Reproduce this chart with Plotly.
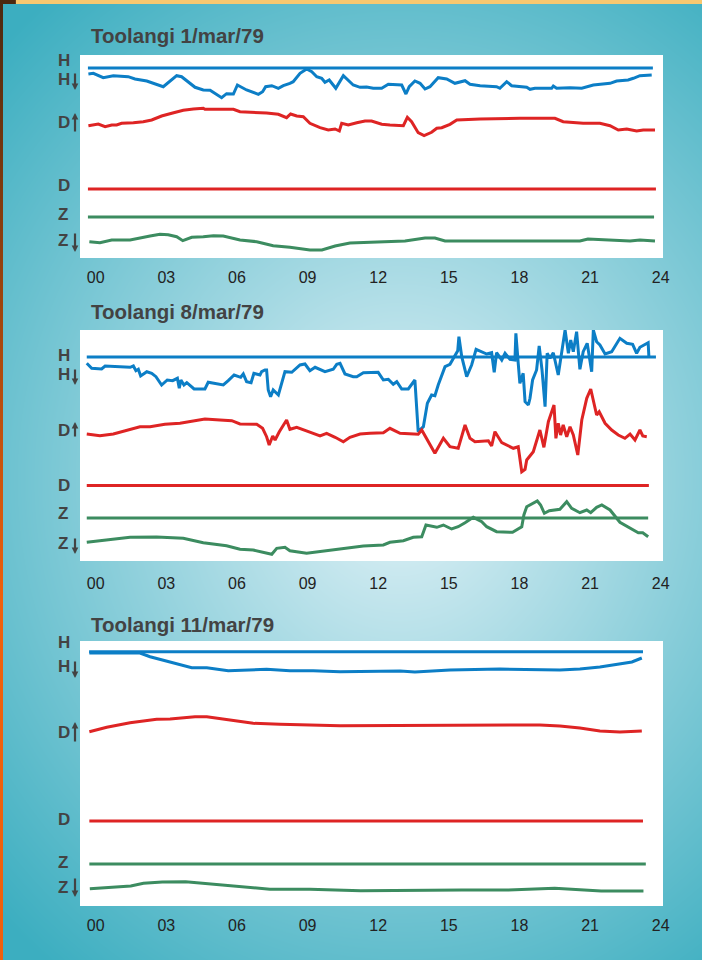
import base64
import struct
import zlib

import numpy as np
import plotly.graph_objects as go

# The photographed page is squeezed horizontally by about 702/709, so the figure is
# laid out 709 px wide while every position is given in reference (702 px) pixels.
REF_W = 702
W, HGT = 709, 960

# ---------------- data ----------------
TICK_HOURS = [0, 3, 6, 9, 12, 15, 18, 21, 24]
TICK_TEXT = ["00", "03", "06", "09", "12", "15", "18", "21", "24"]
TITLES = ["Toolangi 1/mar/79", "Toolangi 8/mar/79", "Toolangi 11/mar/79"]

# ---- 1 March 1979 ----
P1_H_T = [-0.31, -0.10, 0.32, 0.75, 1.38, 1.67, 2.17, 2.87, 3.44, 3.65, 4.22, 4.57, 4.86, 5.35, 5.56,
          5.85, 6.02, 6.41, 6.91, 7.09, 7.22, 7.48, 7.76, 7.97, 8.25, 8.39, 8.68, 8.96, 9.18, 9.39,
          9.60, 9.74, 9.92, 10.20, 10.52, 10.94, 11.23, 11.51, 11.79, 12.15, 12.43, 13.00, 13.18,
          13.32, 13.56, 13.78, 13.99, 14.20, 14.55, 14.91, 15.26, 15.69, 15.90, 16.33, 17.03, 17.17,
          17.46, 17.67, 18.31, 18.45, 18.66, 19.37, 19.44, 19.58, 20.15, 20.65, 21.14, 21.85, 22.13,
          22.62, 22.84, 23.12, 23.62]
P1_H_V = [184, 184.7, 180.3, 182.3, 181.3, 179, 177, 171.3, 182.3, 181.3, 170.7, 168, 167.7, 160.3,
          164.3, 164, 173, 168, 163.7, 166.3, 171.3, 172.3, 169.7, 172.3, 174.7, 176.3, 184.7, 189,
          186.3, 181.3, 179.7, 175.7, 178, 169.7, 182.3, 173, 170.7, 171, 169.7, 169.7, 173.7, 173,
          164, 171.3, 177, 174.7, 169, 171.3, 180.3, 179, 174.7, 177.3, 173.7, 172.3, 171.3, 169.7,
          176.3, 172.3, 170.7, 168.7, 169.7, 169.7, 172, 169.7, 170.3, 169.7, 173, 174.7, 177, 178,
          179.7, 182.3, 183]
P1_D_T = [-0.31, 0.11, 0.40, 0.68, 0.89, 1.10, 1.60, 2.02, 2.38, 2.80, 3.23, 3.72, 4.15, 4.57, 4.64,
          5.85, 6.13, 6.69, 7.26, 7.76, 8.11, 8.28, 8.54, 8.82, 9.10, 9.53, 9.88, 10.17, 10.35, 10.45,
          10.73, 11.09, 11.44, 11.72, 12.15, 12.50, 13.07, 13.24, 13.42, 13.70, 13.95, 14.27, 14.49,
          14.70, 15.05, 15.34, 16.33, 18.02, 19.51, 19.86, 20.71, 21.42, 21.85, 22.20, 22.56, 22.98,
          23.26, 23.76]
P1_D_V = [132.3, 134, 131.3, 133, 133, 134.7, 135.3, 136.3, 138, 142, 144.7, 147.7, 149, 149.7,
          148.7, 148.7, 146.3, 145.7, 145, 143.7, 140.3, 144, 142, 141.3, 134.7, 130.3, 128, 129, 127,
          134.7, 133, 135.3, 137, 137, 133.7, 133, 132.3, 140.7, 136.3, 125.3, 122.3, 125.7, 129.7,
          130.3, 133.7, 138, 139, 139.7, 139.7, 136.3, 134.7, 134.7, 132.3, 128, 129, 127, 128, 128]
P1_Z_T = [-0.27, 0.18, 0.68, 1.46, 2.31, 2.73, 3.08, 3.44, 3.70, 4.08, 4.57, 5.00, 5.42, 6.13, 6.84,
          7.54, 8.25, 8.68, 9.10, 9.61, 10.17, 10.80, 12.08, 13.14, 13.99, 14.41, 14.84, 17.17, 20.57,
          20.91, 21.85, 22.70, 23.12, 23.76]
P1_Z_V = [16.3, 15.3, 18, 18, 22, 23.7, 23.3, 21.3, 17.3, 20.7, 21.3, 22.3, 22, 18, 16.3, 12.3, 10.7,
          9, 8, 8, 12, 15, 16, 17, 20, 20, 17, 17, 17, 19, 18, 17, 18, 17]
# baselines: level, start hour, end hour
P1_BASE = {"H": (190, -0.33, 23.67), "D": (69, -0.33, 23.80), "Z": (41, -0.33, 23.72)}

# ---- 8 March 1979 ----
P2_H_T = [-0.38, -0.17, 0.25, 0.40, 1.46, 1.60, 1.71, 1.81, 1.91, 2.17, 2.38, 2.56, 2.80, 3.04, 3.27,
          3.47, 3.55, 3.62, 3.75, 3.87, 4.18, 4.64, 4.78, 5.07, 5.42, 5.63, 5.88, 6.16, 6.27, 6.41,
          6.60, 6.72, 6.98, 7.05, 7.19, 7.26, 7.33, 7.43, 7.54, 7.76, 7.90, 8.04, 8.33, 8.68, 8.89,
          9.10, 9.32, 9.74, 10.09, 10.24, 10.38, 10.59, 10.94, 11.09, 11.37, 12.00, 12.22, 12.43,
          12.64, 12.79, 13.00, 13.28, 13.56, 13.70, 13.92, 14.09, 14.27, 14.41, 14.55, 14.70, 14.84,
          15.05, 15.26, 15.38, 15.43, 15.55, 15.76, 15.97, 16.16, 16.40, 16.61, 16.82, 16.93, 17.03,
          17.25, 17.39, 17.60, 17.81, 17.85, 17.95, 18.02, 18.16, 18.24, 18.38, 18.45, 18.56, 18.73,
          18.84, 18.96, 19.09, 19.18, 19.30, 19.44, 19.65, 19.80, 19.94, 20.08, 20.18, 20.29, 20.43,
          20.57, 20.71, 20.88, 21.07, 21.14, 21.28, 21.42, 21.64, 21.92, 22.27, 22.56, 22.81, 22.98,
          23.12, 23.47, 23.50]
P2_H_V = [197.7, 192.7, 192, 195, 193.7, 195, 190.3, 191.7, 185, 189.3, 187.7, 184.3, 176, 181, 180.3,
          182.7, 172.7, 181, 176, 178.3, 172, 172, 178.7, 177.7, 176, 180.3, 186, 183.7, 187, 179.3,
          178.3, 187.7, 186, 189.3, 191, 191, 171, 164.3, 171, 166, 177.7, 189.3, 188.7, 196, 197,
          190.3, 193.7, 189.3, 191.7, 196.7, 197.7, 187, 184.3, 184.3, 188.3, 188.7, 181, 181.7, 176.7,
          179.3, 172, 172, 181, 129.3, 134.3, 157.7, 166, 165.3, 176, 186, 194.3, 196.7, 205, 210.3,
          224.3, 204.3, 184.3, 196, 211.7, 209.3, 207, 208.3, 188.7, 208.3, 201, 207.7, 201.7, 201,
          227.7, 197.7, 177.7, 187.7, 159.3, 156, 162.7, 181, 191, 215, 191, 154.3, 207.7, 202.7,
          208.3, 186, 207.7, 231, 207.7, 221, 209.3, 229.3, 191.7, 209.3, 217.7, 189.3, 231, 219.3,
          216, 207, 209.3, 222.7, 217.7, 216.7, 207.7, 213.7, 218.3, 204.3]
P2_D_T = [-0.38, 0.18, 0.75, 1.32, 1.88, 2.31, 2.94, 3.58, 4.08, 4.64, 5.28, 5.78, 6.13, 6.84, 7.09,
          7.26, 7.37, 7.52, 7.62, 7.80, 8.11, 8.25, 8.54, 8.82, 9.24, 9.53, 9.81, 10.17, 10.52, 10.80,
          11.23, 11.65, 12.22, 12.50, 12.93, 13.70, 13.85, 14.41, 14.77, 15.05, 15.40, 15.69, 15.90,
          16.11, 16.68, 16.82, 16.96, 17.25, 17.74, 17.95, 18.10, 18.24, 18.31, 18.59, 18.87, 19.04,
          19.23, 19.47, 19.55, 19.65, 19.75, 19.86, 20.01, 20.15, 20.29, 20.48, 20.65, 20.86, 21.03,
          21.28, 21.39, 21.64, 21.92, 22.20, 22.48, 22.70, 22.91, 23.12, 23.24, 23.41]
P2_D_V = [127, 125.3, 127, 131, 134.3, 134.3, 136.7, 137.7, 140, 142, 141, 140.3, 137, 136.7, 132.7,
          124.3, 116, 125, 121, 129.3, 141, 131.7, 133.7, 131, 127.7, 125, 127.7, 123.7, 119.3, 123.7,
          127, 127.7, 128.3, 132.7, 127.7, 126.7, 131, 107.7, 122.7, 114.3, 112.7, 136, 122.7, 119.3,
          120.3, 115, 129.3, 118.3, 112.7, 114.3, 89.3, 91.7, 101, 109.3, 131, 113.7, 139.3, 156,
          122.7, 137.7, 126, 136, 124.3, 134.3, 126, 106, 141, 162.7, 172, 146, 149.3, 137.7, 131, 126,
          122.7, 127, 121, 131, 125, 124.3]
P2_Z_T = [-0.38, 0.61, 1.46, 2.59, 3.72, 4.57, 5.14, 5.56, 6.13, 6.69, 7.48, 7.69, 8.04, 8.25, 8.96,
          9.67, 10.80, 11.37, 12.22, 12.50, 13.07, 13.49, 13.85, 14.03, 14.49, 14.77, 15.12, 15.40,
          15.69, 16.04, 16.40, 16.61, 17.03, 17.71, 18.10, 18.19, 18.31, 18.76, 18.90, 19.06, 19.27,
          19.72, 20.01, 20.22, 20.57, 20.86, 21.03, 21.28, 21.50, 21.85, 22.27, 22.70, 23.05, 23.24,
          23.47]
P2_Z_V = [18.7, 21, 23.7, 24, 22.7, 18.3, 16.7, 15.3, 11.7, 11, 6.7, 12.7, 13.7, 10.3, 7.7, 10, 13.5,
          15, 16, 18.7, 20.3, 23.7, 24.3, 36, 33.7, 36, 32, 34.3, 38.3, 43.7, 39.3, 34.3, 29.3, 28.7,
          34.3, 46, 54.3, 60, 56, 47.7, 50.3, 51.7, 59.3, 52.7, 48.3, 51, 48.3, 53.7, 56, 51, 38.7,
          32.7, 28.3, 28.3, 24.3]
P2_BASE = {"H": (204, -0.38, 23.80), "D": (75.5, -0.38, 23.50), "Z": (43, -0.38, 23.47)}

# ---- 11 March 1979 ----
P3_H_T = [-0.27, 1.88, 2.31, 4.08, 4.72, 5.63, 7.26, 8.25, 9.24, 10.38, 12.93, 13.56, 15.05, 17.17,
          19.72, 20.57, 21.42, 22.27, 22.78, 23.20]
P3_H_V = [253, 253, 249.3, 238.3, 238.3, 235.3, 236.7, 235.3, 235.3, 234.3, 235, 234, 236, 237, 236,
          237, 239, 242, 244, 248]
P3_D_T = [-0.27, 0.47, 1.46, 2.59, 3.16, 4.22, 4.72, 5.56, 6.69, 7.83, 8.96, 10.38, 18.87, 19.72,
          20.57, 21.42, 22.27, 23.20]
P3_D_V = [174.3, 178.7, 183.3, 186.7, 187, 189.3, 189.3, 186.7, 182.7, 181.7, 181, 180.3, 181, 180,
          178, 175, 174, 175]
P3_Z_T = [-0.25, 0.86, 1.49, 2.03, 2.83, 3.82, 5.16, 6.95, 7.40, 9.10, 11.26, 15.56, 17.53, 19.50,
          21.47, 23.27]
P3_Z_V = [17.3, 18.7, 20, 22.7, 24, 24.3, 21.3, 18, 16.7, 16.7, 15.3, 16, 16, 17.7, 15, 15]
P3_BASE = {"H": (254.3, -0.28, 23.25), "D": (85, -0.27, 23.25), "Z": (42, -0.27, 23.37)}

# ---------------- layout geometry (reference pixels) ----------------
PLOT_LEFT, PLOT_RIGHT = 80, 663
PANEL_TOP = [55, 330, 641]
PANEL_BOTTOM = [258, 561, 906]
X_RANGE = [-0.667, 24.10]
TICK_STANDOFF = [8, 11, 8]
TITLE_Y = [35, 312, 624]
LABEL_Y = [[60, 79.5, 122, 186, 214, 240],
           [355, 374.5, 430, 485, 513, 543],
           [642, 666, 732, 819, 862, 887]]
LABEL_TEXT = ["H", "H", "D", "D", "Z", "Z"]
# arrows: (tip y, tail offset in px: negative = tail above tip)
ARROWS = [[(90, -18), (113, 20), (252, -20)],
          [(385, -17), (422, 16), (554, -17)],
          [(678, -18), (722, 21), (897, -20)]]

BLUE, RED, GREEN = "#0c7ec6", "#de2424", "#3c8c60"
TXT = "#434343"
FONT = "Liberation Sans, Arial, sans-serif"
PAGE_BG = "#4fb5c6"


def background_uri():
    yy, xx = np.mgrid[0:HGT, 0:W].astype(float)
    xr = xx * REF_W / W
    d = np.sqrt(((xr - 400) / 560) ** 2 + ((yy - 480) / 620) ** 2)
    t = np.clip(d, 0, 1)[..., None]
    c0 = np.array([226.0, 242.0, 247.0])
    c1 = np.array([60.0, 174.0, 192.0])
    img = c0 * (1 - t) + c1 * t
    img[0:4, 16:, :] = [248, 200, 112]
    img[0:4, :16, :] = [75, 40, 15]
    ts = np.clip(yy[:, :3] / 600.0, 0, 1)[..., None]
    img[:, :3, :] = np.array([75.0, 40.0, 15.0]) * (1 - ts) + np.array([240.0, 96.0, 12.0]) * ts
    img = np.clip(np.round(img), 0, 255).astype(np.int16)
    rows = img.reshape(HGT, W * 3)
    sub = rows.copy()
    sub[:, 3:] = (rows[:, 3:] - rows[:, :-3]) % 256
    raw = np.hstack([np.ones((HGT, 1), np.int16), sub]).astype(np.uint8).tobytes()

    def chunk(tag, data):
        return (struct.pack(">I", len(data)) + tag + data
                + struct.pack(">I", zlib.crc32(tag + data) & 0xFFFFFFFF))

    png = (b"\x89PNG\r\n\x1a\n"
           + chunk(b"IHDR", struct.pack(">IIBBBBB", W, HGT, 8, 2, 0, 0, 0))
           + chunk(b"IDAT", zlib.compress(raw, 9))
           + chunk(b"IEND", b""))
    return "data:image/png;base64," + base64.b64encode(png).decode()


def px_x(x):
    return x / REF_W


def px_y(y):
    return 1 - y / HGT


fig = go.Figure()

panels = [
    (P1_H_T, P1_H_V, P1_D_T, P1_D_V, P1_Z_T, P1_Z_V, P1_BASE),
    (P2_H_T, P2_H_V, P2_D_T, P2_D_V, P2_Z_T, P2_Z_V, P2_BASE),
    (P3_H_T, P3_H_V, P3_D_T, P3_D_V, P3_Z_T, P3_Z_V, P3_BASE),
]

layout = dict(
    width=W, height=HGT, autosize=False,
    margin=dict(l=0, r=0, t=0, b=0, pad=0),
    paper_bgcolor=PAGE_BG, plot_bgcolor="white",
    showlegend=False,
    images=[dict(source=background_uri(), xref="paper", yref="paper", x=0, y=1,
                 sizex=1, sizey=1, xanchor="left", yanchor="top",
                 sizing="stretch", layer="below")],
)

annotations = []
shapes = []
for i, (ht, hv, dt, dv, zt, zv, base) in enumerate(panels):
    n = "" if i == 0 else str(i + 1)
    xa, ya = "x" + n, "y" + n
    top, bot = PANEL_TOP[i], PANEL_BOTTOM[i]
    shapes.append(dict(type="rect", xref=xa + " domain", yref=ya + " domain",
                       x0=0, x1=1, y0=0, y1=1, fillcolor="white",
                       line=dict(width=0), layer="below"))
    for key, col in (("H", BLUE), ("D", RED), ("Z", GREEN)):
        lvl, t0, t1 = base[key]
        fig.add_trace(go.Scatter(x=[t0, t1], y=[lvl, lvl], mode="lines",
                                 line=dict(color=col, width=3), xaxis=xa, yaxis=ya,
                                 hoverinfo="skip"))
    for tt, vv, col in ((ht, hv, BLUE), (dt, dv, RED), (zt, zv, GREEN)):
        fig.add_trace(go.Scatter(x=tt, y=vv, mode="lines",
                                 line=dict(color=col, width=3), xaxis=xa, yaxis=ya))
    layout["xaxis" + n] = dict(
        domain=[px_x(PLOT_LEFT), px_x(PLOT_RIGHT)], range=X_RANGE, anchor=ya,
        tickvals=TICK_HOURS, ticktext=TICK_TEXT, ticks="", showgrid=False,
        zeroline=False, showline=False, fixedrange=True,
        ticklabelstandoff=TICK_STANDOFF[i],
        tickfont=dict(family=FONT, size=16, color="#222222"))
    layout["yaxis" + n] = dict(
        domain=[px_y(bot), px_y(top)], range=[0, bot - top], anchor=xa,
        visible=False, showgrid=False, zeroline=False, fixedrange=True)

    annotations.append(dict(
        text="<b>%s</b>" % TITLES[i], xref="paper", yref="paper",
        x=px_x(89), y=px_y(TITLE_Y[i]), xanchor="left", yanchor="middle",
        showarrow=False, font=dict(family=FONT, size=20.5, color=TXT)))
    for lab, ly in zip(LABEL_TEXT, LABEL_Y[i]):
        annotations.append(dict(
            text="<b>%s</b>" % lab, xref="paper", yref="paper",
            x=px_x(56), y=px_y(ly), xanchor="left", yanchor="middle",
            showarrow=False, font=dict(family=FONT, size=17, color=TXT)))
    for tip, off in ARROWS[i]:
        annotations.append(dict(
            text="", xref="paper", yref="paper", x=px_x(75), y=px_y(tip),
            ax=0, ay=off, showarrow=True, arrowhead=2, arrowsize=0.6,
            arrowwidth=2.2, arrowcolor=TXT, standoff=0))

layout["annotations"] = annotations
layout["shapes"] = shapes
fig.update_layout(**layout)

POST = (
    "var de=document.documentElement, b=document.body;"
    "de.style.margin='0'; b.style.margin='0';"
    "de.style.overflow='hidden'; b.style.overflow='hidden';"
    "de.style.background='" + PAGE_BG + "'; b.style.background='" + PAGE_BG + "';"
)

fig.write_html("out.html", config={"displayModeBar": False}, post_script=POST)
